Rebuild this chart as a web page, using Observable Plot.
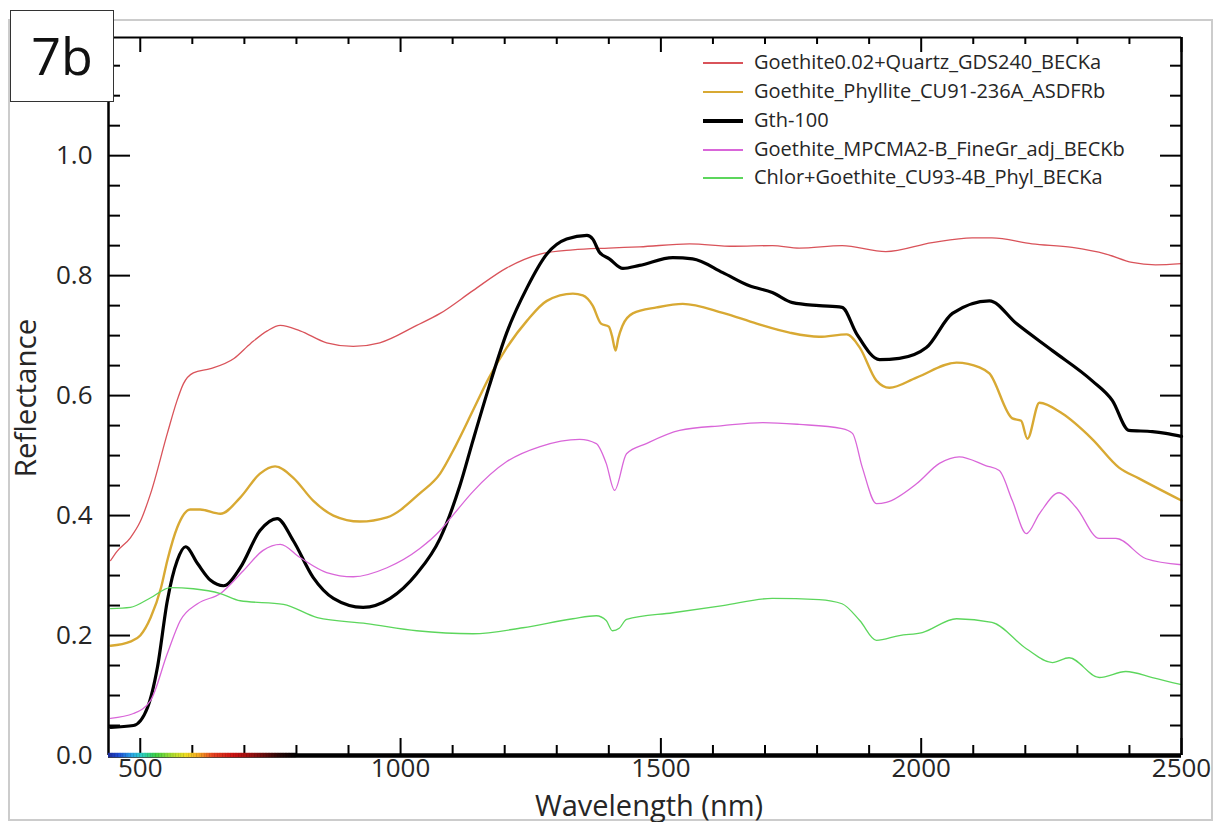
<!DOCTYPE html>
<html><head><meta charset="utf-8">
<script src="https://cdn.jsdelivr.net/npm/d3@7"></script>
<script src="https://cdn.jsdelivr.net/npm/@observablehq/plot@0.6"></script>
<style>
body{margin:0;background:#fff;}
#wrap{position:relative;width:1220px;height:822px;font-family:"Open Sans",sans-serif;color:#262626;overflow:hidden;}
#wrap svg{position:absolute;left:0;top:0;}
#border{position:absolute;left:8px;top:19px;width:1205px;height:802px;border:2px solid #cccccc;box-sizing:border-box;}
#tag{position:absolute;left:10px;top:10px;width:104px;height:92px;border:1.5px solid #333;background:#fff;box-sizing:border-box;font-size:52px;text-align:center;line-height:88px;color:#111;}
.xl{position:absolute;left:108px;width:1082px;top:793.5px;text-align:center;font-size:29px;line-height:22px;}
.yl{position:absolute;left:25px;top:398px;font-size:29.5px;line-height:34px;white-space:nowrap;transform:translate(-50%,-50%) rotate(-90deg);}
.lg{position:absolute;font-size:20px;line-height:28px;white-space:nowrap;color:#262626;}
.ln{position:absolute;left:703px;width:40px;}
</style></head>
<body><div id="wrap"><div id="border"></div></div>
<script>
// ---- data ----
const seriesNames = ["Goethite0.02+Quartz_GDS240_BECKa","Goethite_Phyllite_CU91-236A_ASDFRb","Gth-100","Goethite_MPCMA2-B_FineGr_adj_BECKb","Chlor+Goethite_CU93-4B_Phyl_BECKa"];
const seriesColors = ["#d9535a","#d8a933","#000000","#d966d9","#5cd65c"];
const seriesWidths = [1.3,2.4,3.2,1.3,1.3];

const quartzGDS240 = [[443,0.325],[455,0.34],[481,0.363],[500,0.39],[520,0.437],[552,0.537],[570,0.59],[583,0.62],[602,0.638],[635,0.645],[680,0.662],[712,0.687],[744,0.708],[769,0.717],[807,0.708],[858,0.688],[909,0.682],[960,0.688],[1031,0.717],[1076,0.737],[1139,0.775],[1204,0.813],[1268,0.836],[1331,0.843],[1400,0.846],[1459,0.848],[1555,0.853],[1640,0.849],[1714,0.85],[1766,0.846],[1848,0.85],[1932,0.84],[2021,0.855],[2098,0.863],[2136,0.863],[2213,0.853],[2290,0.847],[2355,0.836],[2405,0.822],[2450,0.818],[2500,0.82]];
const phylliteCU91 = [[443,0.183],[481,0.19],[500,0.2],[520,0.23],[540,0.28],[552,0.325],[571,0.38],[596,0.41],[615,0.41],[654,0.403],[692,0.43],[730,0.47],[759,0.482],[794,0.463],[832,0.425],[871,0.4],[922,0.39],[974,0.397],[1037,0.437],[1076,0.47],[1105,0.515],[1139,0.575],[1170,0.63],[1204,0.68],[1243,0.725],[1281,0.758],[1331,0.77],[1350,0.767],[1369,0.75],[1385,0.72],[1400,0.715],[1406,0.7],[1413,0.675],[1418,0.695],[1426,0.716],[1446,0.737],[1492,0.747],[1542,0.753],[1619,0.738],[1684,0.72],[1747,0.705],[1804,0.698],[1857,0.702],[1882,0.68],[1914,0.625],[1939,0.613],[1991,0.63],[2068,0.655],[2112,0.647],[2131,0.637],[2175,0.562],[2192,0.558],[2204,0.528],[2227,0.588],[2271,0.57],[2328,0.528],[2380,0.48],[2418,0.462],[2500,0.425]];
const gth100 = [[443,0.047],[487,0.05],[514,0.08],[533,0.147],[552,0.258],[571,0.325],[587,0.348],[610,0.32],[635,0.292],[660,0.283],[692,0.313],[730,0.375],[763,0.395],[794,0.358],[832,0.297],[871,0.262],[928,0.247],[980,0.262],[1031,0.303],[1076,0.362],[1114,0.45],[1139,0.525],[1170,0.615],[1204,0.705],[1243,0.78],[1281,0.836],[1319,0.861],[1358,0.867],[1369,0.861],[1382,0.839],[1401,0.828],[1427,0.812],[1459,0.817],[1523,0.83],[1561,0.828],[1619,0.805],[1670,0.783],[1714,0.772],[1753,0.755],[1804,0.75],[1848,0.747],[1876,0.703],[1920,0.66],[1958,0.662],[2010,0.68],[2060,0.737],[2131,0.758],[2183,0.72],[2252,0.675],[2328,0.625],[2367,0.592],[2399,0.542],[2444,0.54],[2470,0.537],[2500,0.532]];
const mpcma2B = [[443,0.062],[487,0.07],[520,0.092],[552,0.17],[577,0.225],[610,0.253],[654,0.27],[698,0.308],[736,0.342],[769,0.352],[807,0.33],[858,0.305],[909,0.298],[974,0.313],[1037,0.345],[1076,0.375],[1100,0.4],[1139,0.44],[1204,0.49],[1268,0.515],[1344,0.527],[1376,0.52],[1395,0.487],[1411,0.442],[1434,0.503],[1472,0.52],[1536,0.542],[1619,0.55],[1696,0.555],[1766,0.552],[1848,0.545],[1868,0.537],[1887,0.48],[1914,0.42],[1933,0.422],[1991,0.453],[2035,0.487],[2073,0.498],[2125,0.483],[2150,0.475],[2175,0.425],[2202,0.37],[2227,0.403],[2265,0.438],[2298,0.413],[2342,0.362],[2374,0.362],[2432,0.328],[2500,0.318]];
const chlorCU93 = [[443,0.245],[481,0.247],[520,0.263],[558,0.28],[602,0.278],[654,0.27],[692,0.258],[775,0.252],[840,0.23],[935,0.22],[1031,0.208],[1139,0.203],[1235,0.213],[1331,0.228],[1376,0.233],[1395,0.225],[1407,0.208],[1420,0.212],[1434,0.227],[1523,0.238],[1619,0.25],[1714,0.262],[1804,0.26],[1848,0.253],[1882,0.225],[1914,0.192],[1958,0.2],[2002,0.205],[2068,0.228],[2136,0.222],[2202,0.178],[2252,0.155],[2284,0.163],[2342,0.13],[2393,0.14],[2444,0.13],[2500,0.118]];

const xMajorTicks = [500,1000,1500,2000,2500];
const xMinorTicks = [600,700,800,900,1100,1200,1300,1400,1600,1700,1800,1900,2100,2200,2300,2400];
const yMajorTicks = [0,0.2,0.4,0.6,0.8,1.0];
const yMinorTicks = [0.05,0.1,0.15,0.25,0.3,0.35,0.45,0.5,0.55,0.65,0.7,0.75,0.85,0.9,0.95,1.05,1.1,1.15];
const spectrumStops = [[439,"#1c2a9c"],[460,"#1f4ed6"],[485,"#2aa6e6"],[505,"#2ccfbf"],[530,"#3ccf45"],[565,"#b5df30"],[590,"#f2dc22"],[615,"#f2a021"],[640,"#e64422"],[680,"#cc1212"],[720,"#8e1010"],[770,"#250606"],[800,"#000000"]];

// ---- build ----
const allSeries = [quartzGDS240, phylliteCU91, gth100, mpcma2B, chlorCU93];

const specSegs = [];
for (let i = 0; i < spectrumStops.length - 1; i++) {
  const [a, ca] = spectrumStops[i], [b, cb] = spectrumStops[i + 1];
  const n = Math.max(1, Math.round((b - a) / 3));
  for (let j = 0; j < n; j++) {
    specSegs.push({x1: a + (b - a) * j / n, x2: a + (b - a) * (j + 1) / n + 0.6, c: d3.interpolateRgb(ca, cb)((j + 0.5) / n)});
  }
}

const W = 1220, H = 822, mT = 37, mR = 39, mB = 67, mL = 108;
const pH = H - mT - mB, pW = W - mL - mR;

const marks = [];
allSeries.forEach((s, i) => {
  marks.push(Plot.line(s, {x: d => d[0], y: d => d[1], stroke: seriesColors[i], strokeWidth: seriesWidths[i], curve: "monotone-x"}));
});
// frame lines
marks.push(Plot.ruleX([439], {stroke: "#000", strokeWidth: 2.5}));
marks.push(Plot.ruleX([2500], {stroke: "#000", strokeWidth: 2.5}));
marks.push(Plot.ruleY([1.197], {stroke: "#000", strokeWidth: 2}));
// ticks bottom/top
marks.push(Plot.tickX(xMajorTicks, {x: d => d, stroke: "#000", strokeWidth: 2, insetTop: pH - 17}));
marks.push(Plot.tickX(xMinorTicks, {x: d => d, stroke: "#000", strokeWidth: 2, insetTop: pH - 10}));
marks.push(Plot.tickX(xMajorTicks, {x: d => d, stroke: "#000", strokeWidth: 2, insetBottom: pH - 15}));
marks.push(Plot.tickX(xMinorTicks, {x: d => d, stroke: "#000", strokeWidth: 2, insetBottom: pH - 7}));
// ticks left/right
marks.push(Plot.tickY(yMajorTicks, {y: d => d, stroke: "#000", strokeWidth: 2, insetRight: pW - 22}));
marks.push(Plot.tickY(yMinorTicks, {y: d => d, stroke: "#000", strokeWidth: 2, insetRight: pW - 12}));
marks.push(Plot.tickY(yMajorTicks, {y: d => d, stroke: "#000", strokeWidth: 2, insetLeft: pW - 21}));
marks.push(Plot.tickY(yMinorTicks, {y: d => d, stroke: "#000", strokeWidth: 2, insetLeft: pW - 11}));
// bottom axis + spectrum bar
marks.push(Plot.ruleY([0], {stroke: "#000", strokeWidth: 4.5}));
marks.push(Plot.rect(specSegs, {x1: "x1", x2: "x2", fill: "c", insetTop: pH - 2.2, insetBottom: -2.2}));

const chart = Plot.plot({
  width: W, height: H,
  marginTop: mT, marginRight: mR, marginBottom: mB, marginLeft: mL,
  style: {fontFamily: "'Open Sans', sans-serif", fontSize: "26px", color: "#262626", background: "transparent", overflow: "visible"},
  x: {domain: [439, 2500], ticks: xMajorTicks, tickSize: 0, tickPadding: 3, tickFormat: d => String(d), label: null},
  y: {domain: [0, 1.197], ticks: yMajorTicks, tickSize: 0, tickPadding: 16, tickFormat: d3.format(".1f"), label: null},
  marks
});

const wrap = document.getElementById("wrap");
wrap.appendChild(chart);

const tag = document.createElement("div"); tag.id = "tag"; tag.textContent = "7b"; wrap.appendChild(tag);
const xl = document.createElement("div"); xl.className = "xl"; xl.textContent = "Wavelength (nm)"; wrap.appendChild(xl);
const yl = document.createElement("div"); yl.className = "yl"; yl.textContent = "Reflectance"; wrap.appendChild(yl);

const legendY = [63, 92, 121, 150, 178];
seriesNames.forEach((name, i) => {
  const ln = document.createElement("div"); ln.className = "ln";
  ln.style.top = (legendY[i] - seriesWidths[i] / 2) + "px";
  ln.style.height = seriesWidths[i] + "px";
  ln.style.background = seriesColors[i];
  wrap.appendChild(ln);
  const t = document.createElement("div"); t.className = "lg";
  t.style.left = "754px"; t.style.top = (legendY[i] - 15) + "px";
  t.textContent = name;
  wrap.appendChild(t);
});
</script></body></html>
